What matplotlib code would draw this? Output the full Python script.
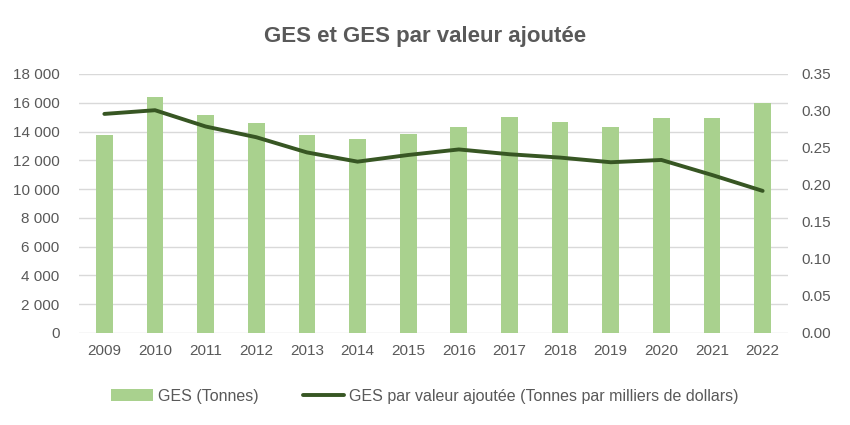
import matplotlib
matplotlib.use("Agg")
import matplotlib.pyplot as plt
import numpy as np

years = [2009, 2010, 2011, 2012, 2013, 2014, 2015, 2016, 2017, 2018, 2019, 2020, 2021, 2022]
ges_tonnes = [13730, 16370, 15160, 14580, 13750, 13450, 13840, 14330, 14980, 14680, 14310, 14950, 14910, 15970]
ges_par_va = [0.296, 0.301, 0.279, 0.2645, 0.244, 0.2315, 0.2405, 0.248, 0.2415, 0.237, 0.2307, 0.2338, 0.2135, 0.192]
left_ticks = [0, 2000, 4000, 6000, 8000, 10000, 12000, 14000, 16000, 18000]
right_ticks = [0.0, 0.05, 0.10, 0.15, 0.20, 0.25, 0.30, 0.35]

plt.rcParams['font.family'] = ['Liberation Sans', 'DejaVu Sans']
txt = '#595959'

fig = plt.figure(figsize=(8.5, 4.25), dpi=100)
ax = fig.add_axes([0.093, 0.2165, 0.834, 0.6095])
x = np.arange(len(years))
bars = ax.bar(x, ges_tonnes, width=0.33, color='#A9D18E', label='GES (Tonnes)', zorder=2)
ax.set_xlim(-0.5, len(years) - 0.5)
ax.set_ylim(0, 18000)
ax.set_yticks(left_ticks)
ax.set_yticklabels([f"{v:,}".replace(",", " ") for v in left_ticks])
ax.set_xticks(x)
ax.set_xticklabels([str(y) for y in years])
ax.grid(axis='y', color='#D9D9D9', linewidth=1, zorder=0)
ax.set_axisbelow(True)
for s in ax.spines.values():
    s.set_visible(False)
ax.tick_params(axis='both', length=0, labelsize=11, colors=txt)
ax.tick_params(axis='x', pad=8)
ax.tick_params(axis='y', pad=14)

ax2 = ax.twinx()
line, = ax2.plot(x, ges_par_va, color='#375623', linewidth=2.8,
                 label='GES par valeur ajoutée (Tonnes par milliers de dollars)', zorder=3,
                 solid_capstyle='round')
ax2.set_ylim(0, 0.35)
ax2.set_yticks(right_ticks)
ax2.set_yticklabels([f"{v:.2f}" for v in right_ticks])
for s in ax2.spines.values():
    s.set_visible(False)
ax2.tick_params(axis='y', length=0, labelsize=11, colors=txt, pad=10)

fig.text(0.5, 0.915, 'GES et GES par valeur ajoutée', ha='center', va='center',
         fontsize=16, fontweight='bold', color=txt)

fig.legend(handles=[bars, line], loc='center', bbox_to_anchor=(0.5, 0.068), ncol=2,
           frameon=False, fontsize=11.5, labelcolor=txt, handlelength=2.6,
           handletextpad=0.3, columnspacing=2.8)

fig.savefig('out.png', dpi=100)
